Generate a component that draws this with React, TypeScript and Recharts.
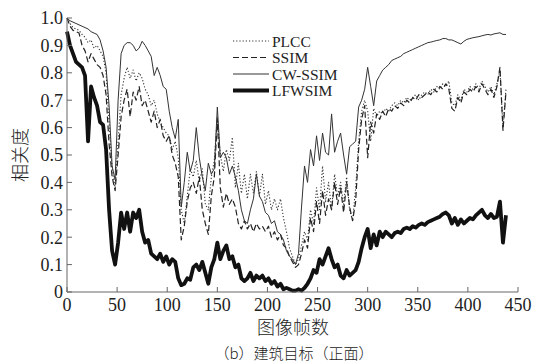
import React from 'react';
import { LineChart, Line, XAxis, YAxis, Legend } from 'recharts';

const frames = [
  0, 3, 6, 9, 12, 15, 18, 21, 24, 27,
  30, 33, 36, 39, 42, 45, 48, 51, 54, 57,
  60, 63, 66, 69, 72, 75, 78, 81, 84, 87,
  90, 93, 96, 99, 102, 105, 108, 111, 114, 117,
  120, 123, 126, 129, 132, 135, 138, 141, 144, 147,
  150, 153, 156, 159, 162, 165, 168, 171, 174, 177,
  180, 183, 186, 189, 192, 195, 198, 201, 204, 207,
  210, 213, 216, 219, 222, 225, 228, 231, 234, 237,
  240, 243, 246, 249, 252, 255, 258, 261, 264, 267,
  270, 273, 276, 279, 282, 285, 288, 291, 294, 297,
  300, 303, 306, 309, 312, 315, 318, 321, 324, 327,
  330, 333, 336, 339, 342, 345, 348, 351, 354, 357,
  360, 363, 366, 369, 372, 375, 378, 381, 384, 387,
  390, 393, 396, 399, 402, 405, 408, 411, 414, 417,
  420, 423, 426, 429, 432, 435, 438,
];

const plcc = [
  1.0, 0.98, 0.965, 0.96, 0.955, 0.94, 0.93, 0.91, 0.92, 0.89,
  0.9, 0.88, 0.86, 0.8, 0.62, 0.45, 0.38, 0.55, 0.72, 0.78,
  0.82, 0.78, 0.81, 0.77, 0.8, 0.78, 0.74, 0.72, 0.68, 0.7,
  0.65, 0.62, 0.6, 0.58, 0.57, 0.52, 0.55, 0.49, 0.3, 0.25,
  0.35, 0.45, 0.42, 0.48, 0.4, 0.45, 0.32, 0.3, 0.42, 0.48,
  0.64, 0.5, 0.44, 0.52, 0.48, 0.565, 0.38, 0.47, 0.36, 0.43,
  0.34, 0.43, 0.36, 0.44, 0.35, 0.43, 0.32, 0.37, 0.3, 0.34,
  0.3, 0.34, 0.27, 0.22, 0.16, 0.13, 0.1, 0.12, 0.17, 0.22,
  0.19, 0.3, 0.25, 0.38, 0.3, 0.46, 0.33, 0.4, 0.3, 0.43,
  0.35, 0.4, 0.32, 0.42, 0.3, 0.26, 0.38, 0.55, 0.66, 0.7,
  0.66, 0.55, 0.67, 0.64, 0.66, 0.65, 0.67, 0.66, 0.68, 0.69,
  0.68, 0.7, 0.69, 0.71, 0.7, 0.71, 0.72, 0.7, 0.72, 0.73,
  0.72, 0.74, 0.73, 0.75, 0.74, 0.76, 0.75, 0.77, 0.69, 0.68,
  0.72, 0.7, 0.74, 0.73, 0.75, 0.74, 0.76, 0.74, 0.77, 0.75,
  0.73, 0.75, 0.72, 0.76, 0.81, 0.6, 0.74,
];

const ssim = [
  1.0, 0.97, 0.955, 0.95, 0.945, 0.9, 0.88, 0.84, 0.87, 0.85,
  0.83, 0.82, 0.79, 0.72, 0.54, 0.42, 0.37, 0.5, 0.64, 0.7,
  0.74, 0.64, 0.73, 0.7, 0.75, 0.68, 0.7, 0.66, 0.62, 0.66,
  0.6, 0.63, 0.57, 0.55, 0.57, 0.5, 0.47, 0.42, 0.19, 0.24,
  0.33, 0.38, 0.4, 0.36, 0.42, 0.3, 0.25, 0.21, 0.35, 0.42,
  0.63, 0.38, 0.31, 0.36, 0.32, 0.34, 0.31, 0.25, 0.23, 0.26,
  0.23, 0.25, 0.22, 0.25, 0.23, 0.24, 0.22, 0.24, 0.2, 0.22,
  0.19, 0.21, 0.17, 0.16, 0.13, 0.11, 0.09, 0.1, 0.14, 0.19,
  0.16, 0.27, 0.22, 0.33, 0.25, 0.37, 0.28, 0.34, 0.3, 0.4,
  0.32, 0.38, 0.29, 0.4, 0.31, 0.26, 0.33, 0.52, 0.63, 0.68,
  0.49, 0.62, 0.58, 0.65, 0.63, 0.66, 0.64, 0.67, 0.66, 0.68,
  0.67, 0.69, 0.68, 0.7, 0.69, 0.71, 0.7, 0.72, 0.71, 0.72,
  0.73, 0.72, 0.74, 0.73, 0.75, 0.74, 0.76, 0.74, 0.67, 0.66,
  0.71, 0.69, 0.73, 0.72, 0.74, 0.73, 0.75, 0.73, 0.76, 0.74,
  0.72, 0.74, 0.71, 0.75, 0.82, 0.59, 0.73,
];

const cwssim = [
  1.0, 0.99, 0.985, 0.98, 0.975, 0.97, 0.965, 0.96, 0.95, 0.945,
  0.94, 0.92, 0.88, 0.82, 0.68, 0.46, 0.41, 0.7, 0.87, 0.9,
  0.91, 0.91, 0.9, 0.88, 0.89, 0.915, 0.9, 0.88, 0.86, 0.79,
  0.82, 0.79, 0.75, 0.74, 0.66, 0.6, 0.56, 0.63, 0.31, 0.4,
  0.51, 0.44, 0.48, 0.6, 0.49, 0.42, 0.37, 0.47, 0.43, 0.45,
  0.675, 0.49, 0.51, 0.49, 0.43, 0.46, 0.42, 0.37, 0.3, 0.26,
  0.25, 0.3, 0.34, 0.43, 0.35, 0.33, 0.29, 0.28, 0.25, 0.26,
  0.22, 0.21, 0.19, 0.15, 0.13, 0.12, 0.1, 0.14, 0.31, 0.46,
  0.4, 0.52, 0.46, 0.57, 0.48, 0.58, 0.51, 0.5, 0.65, 0.51,
  0.55, 0.58, 0.5, 0.43, 0.53, 0.54, 0.55, 0.675, 0.7, 0.74,
  0.82, 0.75, 0.68, 0.77, 0.79, 0.81, 0.82, 0.83, 0.845, 0.85,
  0.855, 0.86, 0.87, 0.875, 0.88, 0.885, 0.89, 0.895, 0.9, 0.905,
  0.91, 0.912, 0.915, 0.918, 0.92, 0.925, 0.925, 0.92, 0.92, 0.915,
  0.91, 0.905, 0.915, 0.922, 0.925, 0.928, 0.93, 0.932, 0.935, 0.938,
  0.94, 0.938, 0.942, 0.944, 0.946, 0.94, 0.94,
];

const lfwsim = [
  0.95, 0.9, 0.87, 0.84, 0.83, 0.82, 0.79, 0.55, 0.75, 0.71,
  0.68, 0.62, 0.61, 0.52, 0.3, 0.15, 0.1, 0.18, 0.29, 0.23,
  0.29, 0.22, 0.29, 0.27, 0.3, 0.22, 0.18, 0.19, 0.14, 0.13,
  0.12, 0.14, 0.11, 0.13, 0.1, 0.12, 0.11, 0.05, 0.025, 0.03,
  0.05, 0.045, 0.09, 0.1, 0.08, 0.11, 0.07, 0.03, 0.09, 0.12,
  0.18, 0.12, 0.15, 0.17, 0.12, 0.13, 0.09, 0.1, 0.05, 0.04,
  0.05, 0.07, 0.04, 0.06, 0.05, 0.06, 0.04, 0.05, 0.03, 0.04,
  0.02, 0.03, 0.01, 0.015, 0.01, 0.005, 0.005, 0.01, 0.005, 0.015,
  0.03, 0.05, 0.08, 0.07, 0.12, 0.1, 0.13, 0.16, 0.12, 0.09,
  0.1, 0.06, 0.05, 0.08, 0.06, 0.07, 0.08, 0.11, 0.16, 0.2,
  0.23, 0.16, 0.21, 0.17, 0.22, 0.2, 0.22, 0.21, 0.2, 0.215,
  0.22, 0.215, 0.23, 0.235, 0.23, 0.24, 0.235, 0.245, 0.25, 0.245,
  0.255, 0.26, 0.265, 0.27, 0.275, 0.285, 0.29, 0.28, 0.25, 0.27,
  0.245, 0.265, 0.25, 0.26, 0.27, 0.265, 0.28, 0.29, 0.3, 0.28,
  0.27, 0.285, 0.27, 0.275, 0.33, 0.18, 0.28,
];

const xTicks = [0, 50, 100, 150, 200, 250, 300, 350, 400, 450];
const yTicks = [0, 0.1, 0.2, 0.3, 0.4, 0.5, 0.6, 0.7, 0.8, 0.9, 1.0];

const seriesNames = ['PLCC', 'SSIM', 'CW-SSIM', 'LFWSIM'];
const xLabel = '图像帧数';
const yLabel = '相关度';
const caption = '（b）建筑目标（正面）';

const data = frames.map((f, i) => ({
  frame: f,
  plcc: plcc[i],
  ssim: ssim[i],
  cwssim: cwssim[i],
  lfwsim: lfwsim[i],
}));

const SERIF = '"Liberation Serif", "DejaVu Serif", serif';
const CJK = '"Noto Sans CJK SC", sans-serif';
const AXIS = '#666';
const TEXT = '#222';

const styles = [
  { key: 'plcc', stroke: '#333', width: 1.1, dash: '1.2 2' },
  { key: 'ssim', stroke: '#222', width: 1.2, dash: '6 3' },
  { key: 'cwssim', stroke: '#333', width: 1, dash: undefined },
  { key: 'lfwsim', stroke: '#111', width: 3.8, dash: undefined },
];

const fmtY = (v: number) => (v === 0 ? '0' : v.toFixed(1));

const YTick = (props: any) => {
  const { x, y, payload } = props;
  const ax = x + 4;
  return (
    <g>
      <line x1={ax} x2={ax + 5} y1={y} y2={y} stroke={AXIS} strokeWidth={1} />
      <text x={x} y={y} dy="0.36em" textAnchor="end" fontFamily={SERIF} fontSize={18} fill={TEXT}>
        {fmtY(payload.value)}
      </text>
    </g>
  );
};

const XTick = (props: any) => {
  const { x, y, payload } = props;
  const ay = y - 6;
  return (
    <g>
      <line x1={x} x2={x} y1={ay} y2={ay - 5} stroke={AXIS} strokeWidth={1} />
      <text x={x} y={y} dy="0.71em" textAnchor="middle" fontFamily={SERIF} fontSize={18} fill={TEXT}>
        {payload.value}
      </text>
    </g>
  );
};

const LegendContent = () => (
  <svg width={140} height={72} style={{ overflow: 'visible' }}>
    {styles.map((s, i) => {
      const y = 8 + i * 16.5;
      return (
        <g key={s.key}>
          <line x1={0} x2={36} y1={y} y2={y} stroke={s.stroke} strokeWidth={s.width} strokeDasharray={s.dash} />
          <text x={39} y={y} dy="0.36em" fontFamily={SERIF} fontSize={15.5} fill={TEXT}>
            {seriesNames[i]}
          </text>
        </g>
      );
    })}
  </svg>
);

export default function App() {
  return (
    <div style={{ position: 'absolute', left: 0, top: 0, width: 536, height: 364, background: '#fff' }}>
      <LineChart
        width={536}
        height={364}
        data={data}
        margin={{ top: 18, right: 18, left: 17, bottom: 42 }}
      >
        <XAxis
          dataKey="frame"
          type="number"
          domain={[0, 450]}
          ticks={xTicks}
          tickSize={0}
          tickMargin={6}
          tickLine={false}
          tick={<XTick />}
          axisLine={{ stroke: AXIS }}
          height={30}
          interval={0}
        />
        <XAxis
          xAxisId="top"
          orientation="top"
          dataKey="frame"
          type="number"
          domain={[0, 450]}
          tick={false}
          tickLine={false}
          axisLine={{ stroke: AXIS }}
          height={0}
        />
        <YAxis
          type="number"
          domain={[0, 1]}
          ticks={yTicks}
          tickSize={0}
          tickMargin={4}
          tickLine={false}
          tick={<YTick />}
          axisLine={{ stroke: AXIS }}
          width={50}
          interval={0}
        />
        <YAxis
          yAxisId="right"
          orientation="right"
          type="number"
          domain={[0, 1]}
          tick={false}
          tickLine={false}
          axisLine={{ stroke: AXIS }}
          width={0}
        />
        <Legend
          layout="horizontal"
          verticalAlign="middle"
          align="center"
          content={<LegendContent />}
          wrapperStyle={{ position: 'absolute', left: 233, top: 33, width: 140, height: 72 }}
        />
        {styles.map((s) => (
          <Line
            key={s.key}
            dataKey={s.key}
            type="linear"
            stroke={s.stroke}
            strokeWidth={s.width}
            strokeDasharray={s.dash}
            strokeLinejoin="round"
            dot={false}
            activeDot={false}
            isAnimationActive={false}
          />
        ))}
      </LineChart>
      <div
        style={{
          position: 'absolute',
          left: 19,
          top: 155,
          transform: 'translate(-50%, -50%) rotate(-90deg)',
          fontFamily: CJK,
          fontSize: 18,
          fontWeight: 300,
          color: TEXT,
          whiteSpace: 'nowrap',
          lineHeight: 1,
        }}
      >
        {yLabel}
      </div>
      <div
        style={{
          position: 'absolute',
          left: 293,
          top: 326,
          transform: 'translate(-50%, -50%)',
          fontFamily: CJK,
          fontSize: 18,
          fontWeight: 300,
          color: TEXT,
          whiteSpace: 'nowrap',
          lineHeight: 1,
        }}
      >
        {xLabel}
      </div>
      <div
        style={{
          position: 'absolute',
          left: 294,
          top: 352,
          transform: 'translate(-50%, -50%)',
          fontFamily: CJK,
          fontSize: 15,
          fontWeight: 300,
          color: TEXT,
          whiteSpace: 'nowrap',
          lineHeight: 1,
        }}
      >
        {caption}
      </div>
    </div>
  );
}
